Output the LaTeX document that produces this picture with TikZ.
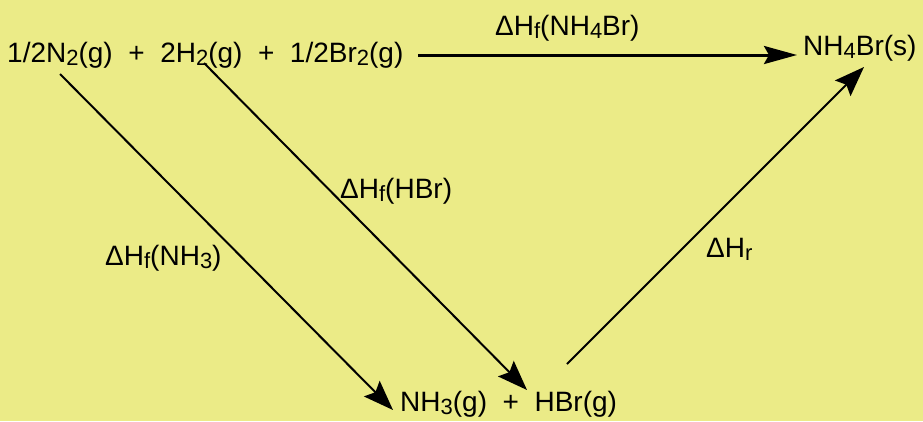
\documentclass[tikz,border=0pt]{standalone}
\usepackage{fontspec}
\setmainfont{Liberation Sans}
\usetikzlibrary{arrows.meta}
\definecolor{bgyellow}{RGB}{235,235,135}
\newcommand\sbs[1]{\raisebox{-3.5pt}{\fontsize{22}{22}\selectfont #1}}
\begin{document}
\begin{tikzpicture}[x=1pt,y=-1pt,
  chem/.style={inner sep=0pt,anchor=base west,font=\fontsize{28}{28}\selectfont},
  lbl/.style={inner sep=0pt,anchor=base west,font=\fontsize{28}{28}\selectfont},
  toparrow/.style={line width=3pt,-{Stealth[length=33pt,width=18pt,inset=5pt]}},
  diagarrow/.style={line width=2pt,-{Stealth[length=30pt,width=22pt,inset=5pt]}}]
\fill[bgyellow] (0,0) rectangle (923,421);
\useasboundingbox (0,0) rectangle (923,421);
% species
\node[chem] (react) at (7,62) {1/2N\sbs{2}(g)\ \ +\ \ 2H\sbs{2}(g)\ \ +\ \ 1/2Br\sbs{2}(g)};
\node[chem] (prod) at (803,55) {NH\sbs{4}Br(s)};
\node[chem] (mid) at (400,411) {NH\sbs{3}(g)\ \ +\ \ HBr(g)};
% labels
\node[lbl] (l1) at (495,35) {ΔH\sbs{f}(NH\sbs{4}Br)};
\node[lbl] (l2) at (340,198) {ΔH\sbs{f}(HBr)};
\node[lbl] (l3) at (105,265) {ΔH\sbs{f}(NH\sbs{3})};
\node[lbl] (l4) at (706,257) {ΔH\sbs{r}};
% connector end points
\coordinate (a1) at (418,55);
\coordinate (b1) at (797,55);
\coordinate (a2) at (60,74);
\coordinate (b2) at (393,410);
\coordinate (a3) at (204,63);
\coordinate (b3) at (527,390);
\coordinate (a4) at (567,364);
\coordinate (b4) at (864,67);
\draw[toparrow] (a1) -- (b1);
\draw[diagarrow] (a2) -- (b2);
\draw[diagarrow] (a3) -- (b3);
\draw[diagarrow] (a4) -- (b4);
\end{tikzpicture}
\end{document}
